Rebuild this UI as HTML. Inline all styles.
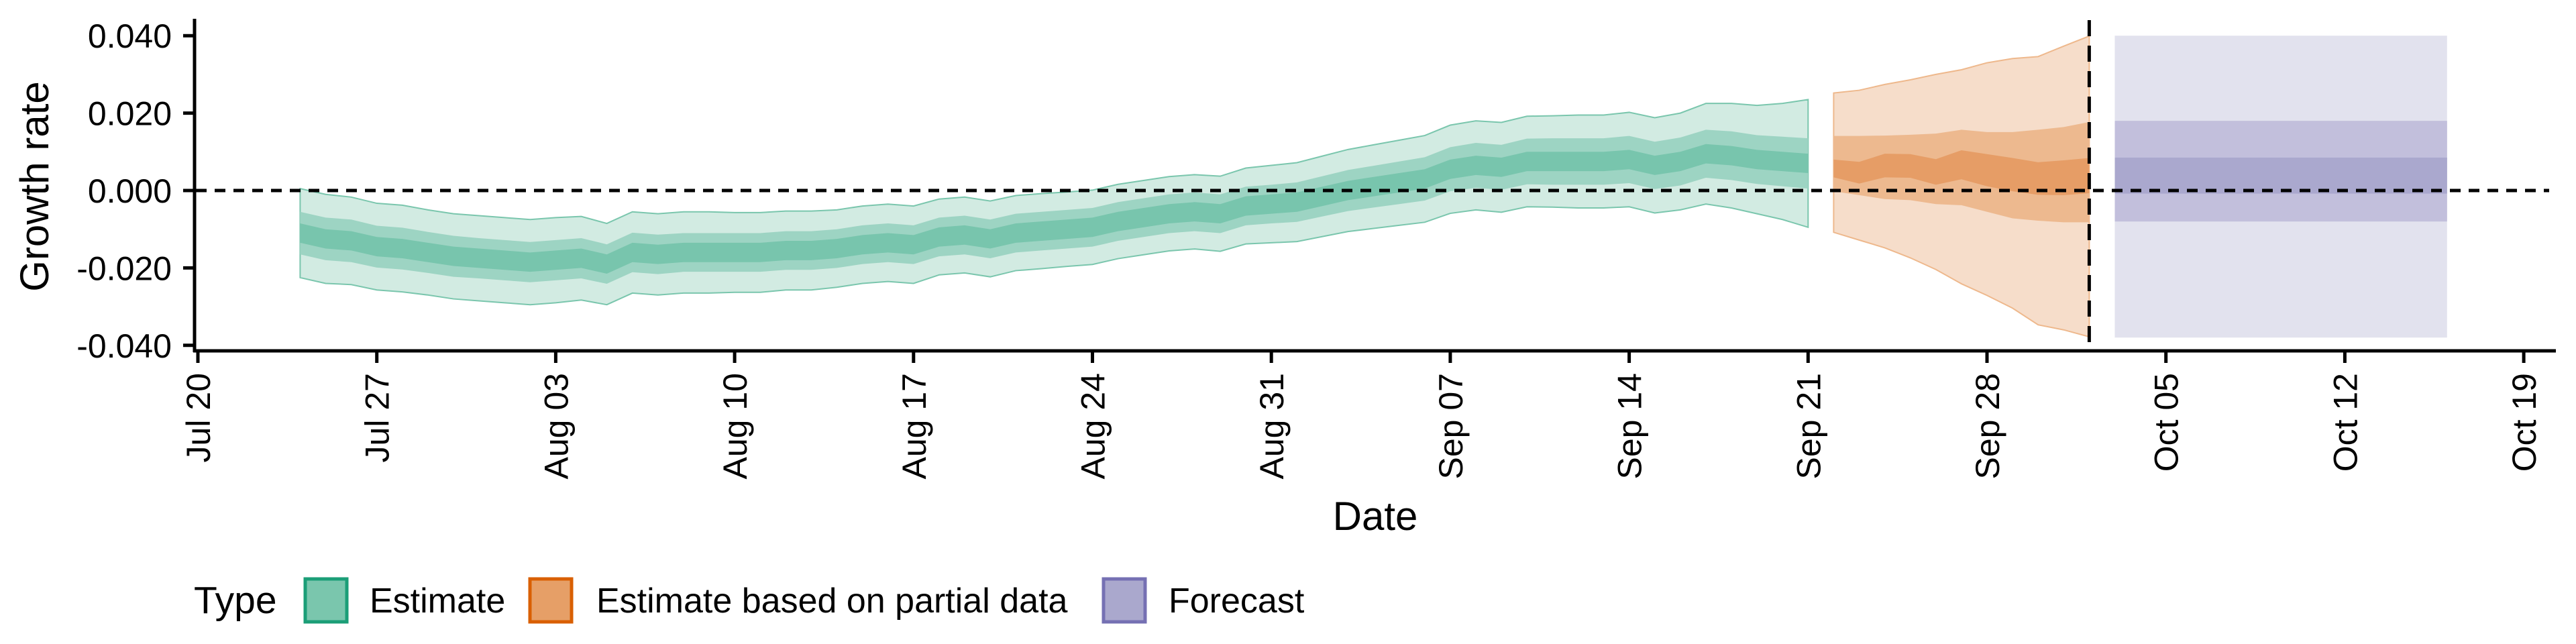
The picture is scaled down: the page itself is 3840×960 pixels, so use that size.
<!DOCTYPE html>
<html><head><meta charset="utf-8">
<style>
html,body{margin:0;padding:0;background:#fff;}
svg{display:block;font-family:"Liberation Sans",sans-serif;}
</style></head>
<body>
<svg id="chart" width="3840" height="960" viewBox="0 0 3840 960" xmlns="http://www.w3.org/2000/svg">
<g id="bands"></g>
<g id="axes"></g>
<text x="0" y="0" transform="translate(72,278) rotate(-90)" text-anchor="middle" font-size="60">Growth rate</text>
<text x="2050" y="790" text-anchor="middle" font-size="60">Date</text>
<g>
<text x="289" y="914" font-size="57">Type</text>
<rect x="455" y="863" width="62" height="64" fill="#7ac6ad" stroke="#1b9e77" stroke-width="5"/>
<text x="551" y="913" font-size="52">Estimate</text>
<rect x="790" y="863" width="62" height="64" fill="#e69f67" stroke="#d95f02" stroke-width="5"/>
<text x="889" y="913" font-size="52">Estimate based on partial data</text>
<rect x="1645" y="863" width="62" height="64" fill="#aaa8cd" stroke="#7570b3" stroke-width="5"/>
<text x="1742" y="913" font-size="52">Forecast</text>
</g>
</svg>
<script>
// Estimate: daily from Jul 24 (day 4 after Jul 20)
const estStartDay = 4;
const estMedian = [-0.011,-0.0125,-0.013,-0.0145,-0.015,-0.016,-0.017,-0.0175,-0.018,-0.0185,
-0.018,-0.0175,-0.019,-0.016,-0.0165,-0.016,-0.016,-0.016,-0.016,-0.0155,
-0.0155,-0.015,-0.014,-0.0135,-0.014,-0.012,-0.0115,-0.0125,-0.011,-0.0105,
-0.010,-0.0095,-0.008,-0.007,-0.006,-0.0055,-0.006,-0.004,-0.0035,-0.003,
-0.0015,0.000,0.001,0.002,0.003,0.0055,0.0065,0.006,0.0075,0.0075,
0.0075,0.0075,0.008,0.0065,0.0075,0.0095,0.009,0.008,0.0075,0.007];
const estOuterHalf = [0.0115,0.0115,0.0113,0.0112,0.0112,0.011,0.011,0.011,0.011,0.011,
0.011,0.0108,0.0105,0.0105,0.0105,0.0105,0.0105,0.0103,0.0103,0.0102,
0.0102,0.010,0.010,0.010,0.010,0.0098,0.0098,0.0098,0.0097,0.0097,
0.0096,0.0096,0.0096,0.0096,0.0096,0.0096,0.0097,0.0098,0.010,0.0102,
0.0104,0.0106,0.0108,0.011,0.0112,0.0114,0.0115,0.0116,0.0117,0.0118,
0.012,0.012,0.0122,0.0123,0.0125,0.013,0.0135,0.014,0.015,0.0165];
const estMidHalf = [0.0055,0.0055,0.0055,0.0054,0.0054,0.0053,0.0053,0.0052,0.0052,0.0052,
0.0052,0.0052,0.0051,0.0051,0.0051,0.005,0.005,0.005,0.005,0.005,
0.005,0.005,0.005,0.005,0.005,0.005,0.005,0.005,0.005,0.005,
0.005,0.005,0.005,0.005,0.005,0.005,0.005,0.005,0.005,0.0051,
0.0052,0.0053,0.0054,0.0055,0.0056,0.0057,0.0058,0.0058,0.0059,0.006,
0.006,0.006,0.0061,0.0061,0.0062,0.0062,0.0063,0.0063,0.0064,0.0065];
const estInnerHalf = [0.0025,0.0025,0.0025,0.0025,0.0025,0.0025,0.0025,0.0025,0.0025,0.0025,
0.0025,0.0025,0.0025,0.0025,0.0025,0.0025,0.0025,0.0025,0.0025,0.0025,
0.0025,0.0025,0.0025,0.0025,0.0025,0.0025,0.0025,0.0025,0.0025,0.0025,
0.0025,0.0025,0.0025,0.0025,0.0025,0.0025,0.0025,0.0025,0.0025,0.0025,
0.0025,0.0025,0.0025,0.0025,0.0025,0.0025,0.0025,0.0025,0.0025,0.0025,
0.0025,0.0025,0.0025,0.0025,0.0025,0.0025,0.0025,0.0025,0.0025,0.0025];
// Partial data: Sep 22 (day 64) .. Oct 2
const partStartDay = 64;
const partOuterUp = [0.0252,0.0259,0.0274,0.0286,0.0300,0.0312,0.0330,0.0341,0.0346,0.0373,0.0399];
const partOuterLo = [-0.0108,-0.0128,-0.0148,-0.0174,-0.0204,-0.0241,-0.0271,-0.0304,-0.0347,-0.0360,-0.0378];
const partMidUp = [0.0141,0.0141,0.0142,0.0144,0.0147,0.0157,0.0151,0.0151,0.0157,0.0164,0.0177];
const partMidLo = [-0.0002,-0.0012,-0.0022,-0.0025,-0.0035,-0.0038,-0.0055,-0.0072,-0.0078,-0.0082,-0.0082];
const partInnerUp = [0.0080,0.0074,0.0095,0.0094,0.0081,0.0104,0.0094,0.0084,0.0073,0.0078,0.0084];
const partInnerLo = [0.0034,0.0018,0.0034,0.0033,0.0015,0.0029,0.0011,-0.0002,-0.0011,-0.0012,-0.0007];
// Forecast: Oct 3 (day 75) .. Oct 16 (day 88)
const fcDays = [75, 88];
const fcOuter = [-0.038, 0.040];
const fcMid = [-0.008, 0.018];
const fcInner = [-0.0008, 0.0085];
const yTicks = [0.04, 0.02, 0, -0.02, -0.04];
const yTickLabels = ["0.040","0.020","0.000","-0.020","-0.040"];
const xTickDays = [0,7,14,21,28,35,42,49,56,63,70,77,84,91];
const xTickLabels = ["Jul 20","Jul 27","Aug 03","Aug 10","Aug 17","Aug 24","Aug 31","Sep 07","Sep 14","Sep 21","Sep 28","Oct 05","Oct 12","Oct 19"];
const dataCutoffDay = 74;

const NS = "http://www.w3.org/2000/svg";
const xs = d => 295 + d * 38.1;
const ys = v => 284 - v * 5770;
const bands = document.getElementById('bands');
const axes = document.getElementById('axes');
function mk(tag, attrs, parent) {
  const e = document.createElementNS(NS, tag);
  for (const k in attrs) e.setAttribute(k, attrs[k]);
  parent.appendChild(e);
  return e;
}
function area(start, up, lo, fill, stroke, name) {
  let pts = [];
  for (let i = 0; i < up.length; i++) pts.push(xs(start + i) + ',' + ys(up[i]));
  for (let i = lo.length - 1; i >= 0; i--) pts.push(xs(start + i) + ',' + ys(lo[i]));
  const p = mk('polygon', {points: pts.join(' '), fill: fill, stroke: stroke, 'stroke-width': stroke === 'none' ? 0 : 2}, bands);
  
  
}
const eu = (h) => estMedian.map((m, i) => m + h[i]);
const el = (h) => estMedian.map((m, i) => m - h[i]);
area(estStartDay, eu(estOuterHalf), el(estOuterHalf), '#d2ebe2', '#7ac6ad', 'estimate-band-90');
area(estStartDay, eu(estMidHalf), el(estMidHalf), '#9dd4c3', 'none', 'estimate-band-50');
area(estStartDay, eu(estInnerHalf), el(estInnerHalf), '#78c5ad', 'none', 'estimate-band-20');
area(partStartDay, partOuterUp, partOuterLo, '#f6ddca', '#eeb88c', 'partial-band-90');
area(partStartDay, partMidUp, partMidLo, '#edb98f', 'none', 'partial-band-50');
area(partStartDay, partInnerUp, partInnerLo, '#e69d66', 'none', 'partial-band-20');
function rectBand(r, fill, name) {
  const e = mk('rect', {x: xs(fcDays[0]), y: ys(r[1]), width: xs(fcDays[1]) - xs(fcDays[0]), height: ys(r[0]) - ys(r[1]), fill: fill}, bands);
  
  
}
rectBand(fcOuter, '#e2e2ee', 'forecast-band-90');
rectBand(fcMid, '#c2bfdc', 'forecast-band-50');
rectBand(fcInner, '#aaa8ce', 'forecast-band-20');

// zero line
const z = mk('line', {x1: 292, x2: 3800, y1: ys(0), y2: ys(0), stroke: '#000', 'stroke-width': 5, 'stroke-dasharray': '16 12'}, axes);


// cutoff line
const c = mk('line', {x1: xs(dataCutoffDay), x2: xs(dataCutoffDay), y1: 30, y2: 522, stroke: '#000', 'stroke-width': 5, 'stroke-dasharray': '24 14'}, axes);


// axes lines
const ya = mk('line', {x1: 290, x2: 290, y1: 28, y2: 525, stroke: '#000', 'stroke-width': 5}, axes);


const xa = mk('line', {x1: 288, x2: 3810, y1: 523, y2: 523, stroke: '#000', 'stroke-width': 5}, axes);


yTicks.forEach((v, i) => {
  const t = mk('line', {x1: 273, x2: 290, y1: ys(v), y2: ys(v), stroke: '#000', 'stroke-width': 5}, axes);
  
  
  const l = mk('text', {x: 256, y: ys(v) + 18, 'text-anchor': 'end', 'font-size': 50}, axes);
  l.textContent = yTickLabels[i];
  
  
});
xTickDays.forEach((d, i) => {
  const t = mk('line', {x1: xs(d), x2: xs(d), y1: 523, y2: 541, stroke: '#000', 'stroke-width': 5}, axes);
  
  
  const l = mk('text', {x: 0, y: 0, 'text-anchor': 'end', 'font-size': 50, transform: 'translate(' + (xs(d) + 18) + ',556) rotate(-90)'}, axes);
  l.textContent = xTickLabels[i];
  
  
});
</script>
</body></html>
